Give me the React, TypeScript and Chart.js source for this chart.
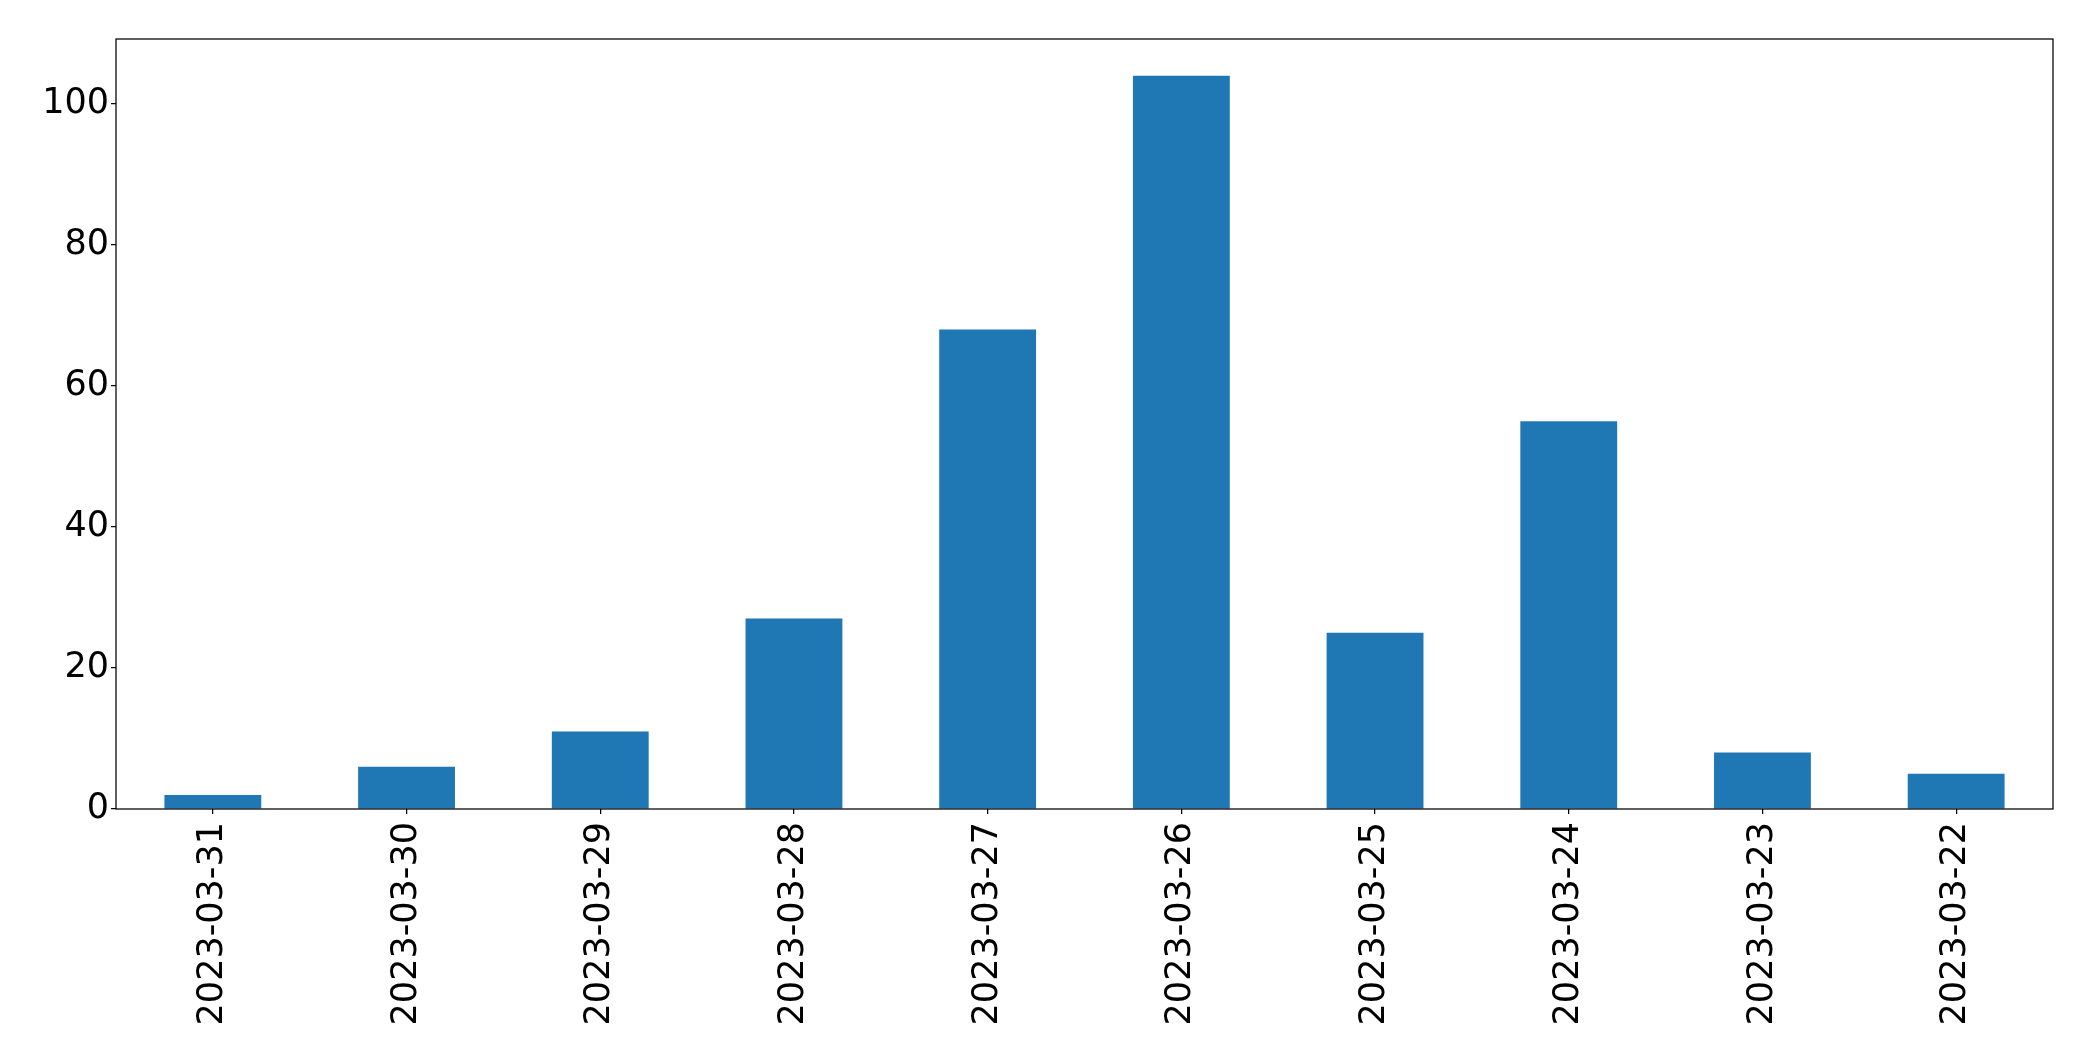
import React, { useEffect, useRef } from "react";
import { Chart, registerables } from "chart.js";

Chart.register(...registerables);

const categories = [
  "2023-03-31",
  "2023-03-30",
  "2023-03-29",
  "2023-03-28",
  "2023-03-27",
  "2023-03-26",
  "2023-03-25",
  "2023-03-24",
  "2023-03-23",
  "2023-03-22",
];
const counts = [2, 6, 11, 27, 68, 104, 25, 55, 8, 5];
const yTicks = [0, 20, 40, 60, 80, 100];

const W = 2093;
const H = 1061;

const frame = {
  id: "frame",
  afterDraw(chart: any) {
    const { ctx, chartArea } = chart;
    ctx.save();
    ctx.strokeStyle = "#000";
    ctx.lineWidth = 1.25;
    ctx.strokeRect(chartArea.left, chartArea.top, chartArea.right - chartArea.left, chartArea.bottom - chartArea.top);
    ctx.restore();
  },
};

export default function App() {
  const ref = useRef<HTMLCanvasElement>(null);
  useEffect(() => {
    document.body.style.margin = "0";
    const font = { family: "'DejaVu Sans', sans-serif", size: 35 };
    const chart = new Chart(ref.current!, {
      type: "bar",
      data: {
        labels: categories,
        datasets: [
          {
            data: counts,
            backgroundColor: "#1f77b4",
            borderWidth: 0,
            barPercentage: 0.5,
            categoryPercentage: 1.0,
          },
        ],
      },
      options: {
        animation: false,
        responsive: false,
        devicePixelRatio: 1,
        layout: { padding: { top: 39, right: 40, left: 0, bottom: 0 } },
        plugins: { legend: { display: false }, tooltip: { enabled: false } },
        scales: {
          x: {
            type: "category",
            offset: true,
            border: { display: false },
            grid: {
              offset: false,
              drawOnChartArea: false,
              drawTicks: true,
              tickLength: 5,
              color: "#000",
              lineWidth: 1.25,
            },
            ticks: {
              color: "#000",
              font,
              minRotation: 90,
              maxRotation: 90,
              padding: 8,
              autoSkip: false,
            },
            afterFit(scale: any) {
              scale.height = H - 809;
            },
          },
          y: {
            type: "linear",
            min: 0,
            max: 109.2,
            border: { display: false },
            grid: {
              drawOnChartArea: false,
              drawTicks: true,
              tickLength: 5,
              color: "#000",
              lineWidth: 1.25,
            },
            ticks: {
              color: "#000",
              font,
              padding: 2,
              includeBounds: false,
              stepSize: 20,
            },
            afterBuildTicks(scale: any) {
              scale.ticks = yTicks.map((v) => ({ value: v }));
            },
            afterFit(scale: any) {
              scale.width = 116;
            },
          },
        },
      },
      plugins: [frame],
    });
    return () => chart.destroy();
  }, []);
  return (
    <div style={{ position: "absolute", left: 0, top: 0, width: W, height: H, background: "#fff" }}>
      <canvas ref={ref} width={W} height={H} style={{ width: W, height: H, display: "block" }} />
    </div>
  );
}
